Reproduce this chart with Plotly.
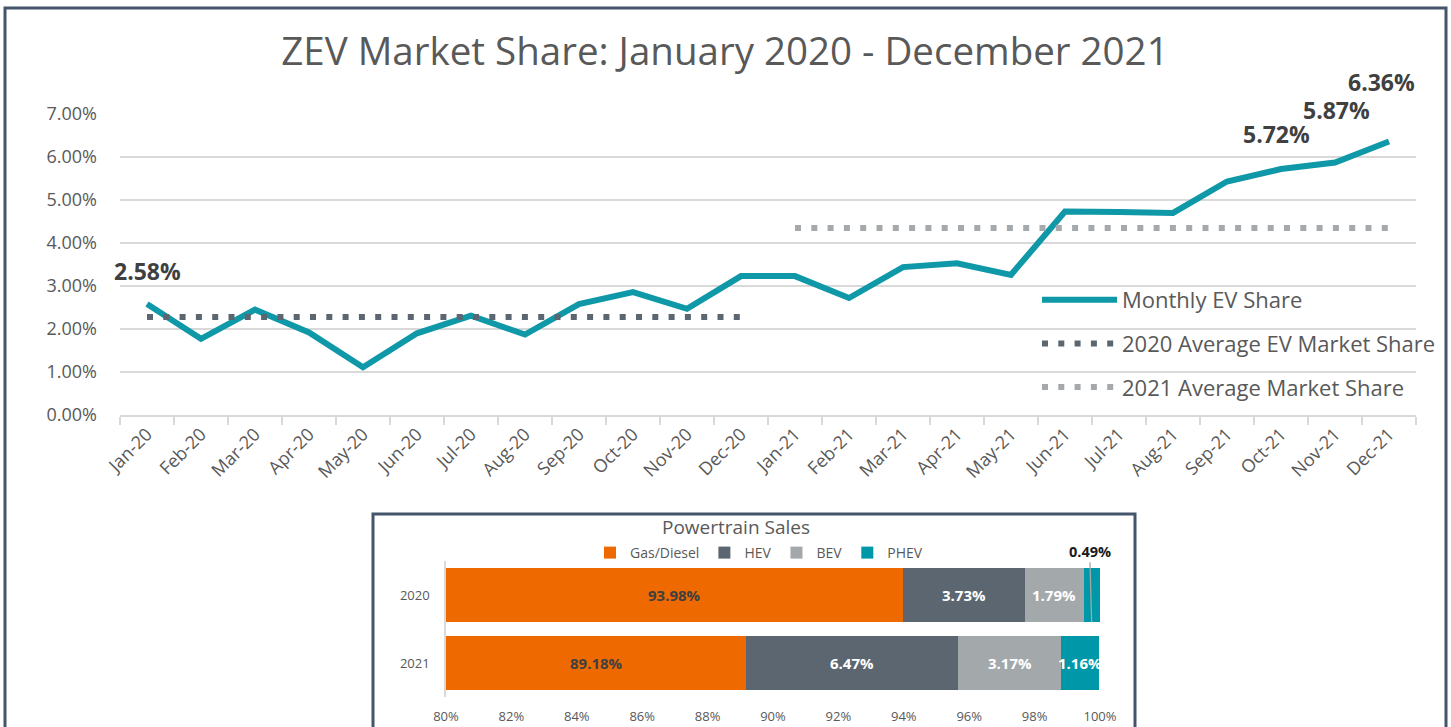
import plotly.graph_objects as go

# ---------------- data ----------------
months = ["Jan-20", "Feb-20", "Mar-20", "Apr-20", "May-20", "Jun-20", "Jul-20", "Aug-20",
          "Sep-20", "Oct-20", "Nov-20", "Dec-20", "Jan-21", "Feb-21", "Mar-21", "Apr-21",
          "May-21", "Jun-21", "Jul-21", "Aug-21", "Sep-21", "Oct-21", "Nov-21", "Dec-21"]
monthly_share = [2.58, 1.77, 2.45, 1.92, 1.11, 1.90, 2.31, 1.87, 2.58, 2.86, 2.47, 3.23,
                 3.23, 2.72, 3.44, 3.53, 3.26, 4.73, 4.72, 4.70, 5.43, 5.72, 5.87, 6.36]
avg_2020 = 2.28
avg_2021 = 4.35
months_2020 = months[:12]
months_2021 = months[12:]

labelled_idx = [0, 21, 22, 23]
label_yshift = [33, 35, 53, 60]
label_xshift = [0, -5, 1, -8]

years = ["2020", "2021"]
powertrains = ["Gas/Diesel", "HEV", "BEV", "PHEV"]
pt_values = {
    "Gas/Diesel": [93.98, 89.18],
    "HEV": [3.73, 6.47],
    "BEV": [1.79, 3.17],
    "PHEV": [0.49, 1.16],
}
pt_colors = {"Gas/Diesel": "#EE6A00", "HEV": "#5B6670", "BEV": "#A3A8AB", "PHEV": "#0097A8"}
inset_axis_min = 80
bar_gap = 0.2

W, H = 1451, 727
def px(x):
    return x / W
def py(y):
    return 1 - y / H

FONT = "Open Sans"
GREY_TXT = "#595959"
TEAL = "#0F98A8"

fig = go.Figure()

# ---------------- main chart ----------------
fig.add_trace(go.Scatter(
    x=months, y=monthly_share, mode="lines", name="Monthly EV Share",
    line=dict(color=TEAL, width=6), legend="legend", legendgroup="a",
    xaxis="x", yaxis="y"))
fig.add_trace(go.Scatter(
    x=months_2020, y=[avg_2020] * len(months_2020), mode="lines",
    name="2020 Average EV Market Share",
    line=dict(color="#5B6670", width=6, dash="6px,10.3px"), legend="legend", legendgroup="b",
    xaxis="x", yaxis="y"))
fig.add_trace(go.Scatter(
    x=months_2021, y=[avg_2021] * len(months_2021), mode="lines",
    name="2021 Average Market Share",
    line=dict(color="#A5A9AC", width=6, dash="6px,10.3px"), legend="legend", legendgroup="c",
    xaxis="x", yaxis="y"))

annotations = []
for k, i in enumerate(labelled_idx):
    annotations.append(dict(
        x=i, y=monthly_share[i], xref="x", yref="y",
        text=f"<b>{monthly_share[i]:.2f}%</b>", showarrow=False,
        yshift=label_yshift[k], xshift=label_xshift[k],
        font=dict(family=FONT, size=23, color="#404040")))

# ---------------- inset: powertrain sales ----------------
for p in powertrains:
    fig.add_trace(go.Bar(
        y=years, x=pt_values[p], orientation="h", name=p,
        marker=dict(color=pt_colors[p], line=dict(width=0)),
        legend="legend2", xaxis="x2", yaxis="y2", hoverinfo="skip"))

# segment labels (y given as category index)
for j, yr in enumerate(years):
    left = 0.0
    for p in powertrains:
        v = pt_values[p][j]
        right = left + v
        vis_left = max(left, inset_axis_min)
        mid = (vis_left + right) / 2
        if p == "PHEV" and yr == "2020":
            annotations.append(dict(
                x=mid, y=j + (1 - bar_gap) / 2, xref="x2", yref="y2",
                text=f"<b>{v:.2f}%</b>", showarrow=True, arrowhead=0,
                arrowcolor="#A6A6A6", arrowwidth=1.3, ax=-2, ay=-71, standoff=0,
                font=dict(family=FONT, size=14.5, color="#1a1a1a")))
        else:
            annotations.append(dict(
                x=mid, y=j, xref="x2", yref="y2", text=f"<b>{v:.2f}%</b>",
                showarrow=False,
                font=dict(family=FONT, size=15,
                          color="#404040" if p == "Gas/Diesel" else "#FFFFFF")))
        left = right

annotations.append(dict(
    x=px(736), y=py(527), xref="paper", yref="paper", text="Powertrain Sales",
    xanchor="center", yanchor="middle",
    showarrow=False, font=dict(family=FONT, size=19, color=GREY_TXT)))

shapes = [
    dict(type="rect", xref="paper", yref="paper", x0=px(5), x1=px(1446), y0=py(8), y1=-0.1,
         line=dict(color="#44546A", width=3), fillcolor="rgba(0,0,0,0)", layer="below"),
    dict(type="rect", xref="paper", yref="paper", x0=px(373), x1=px(1135), y0=py(514), y1=-0.1,
         line=dict(color="#44546A", width=3), fillcolor="white", layer="below"),
]

fig.update_layout(
    width=W, height=H,
    margin=dict(l=0, r=0, t=0, b=0, autoexpand=False),
    paper_bgcolor="white", plot_bgcolor="rgba(0,0,0,0)",
    font=dict(family=FONT, color=GREY_TXT),
    title=dict(text="ZEV Market Share: January 2020 - December 2021",
               x=px(725), xanchor="center", y=py(52), yanchor="middle",
               font=dict(family=FONT, size=38.5, color=GREY_TXT)),
    barmode="stack", bargap=bar_gap,
    showlegend=True,
    legend=dict(x=px(1037), y=py(279), xanchor="left", yanchor="top",
                bgcolor="rgba(0,0,0,0)", font=dict(family=FONT, size=22, color=GREY_TXT),
                tracegroupgap=12, itemwidth=75),
    legend2=dict(orientation="h", x=px(590), y=py(553), xanchor="left", yanchor="middle",
                 bgcolor="rgba(0,0,0,0)", font=dict(family=FONT, size=14, color=GREY_TXT),
                 traceorder="normal", itemwidth=30),
    xaxis=dict(domain=[px(120), px(1416)], anchor="y", type="category",
               range=[-0.5, len(months) - 0.5], tickangle=-45, automargin=False,
               tickfont=dict(family=FONT, size=18, color=GREY_TXT),
               showline=True, linecolor="#D9D9D9", linewidth=1.5,
               ticks="outside", tickson="boundaries", ticklen=8, tickcolor="#D9D9D9",
               tickwidth=1.5, showgrid=False, zeroline=False),
    yaxis=dict(domain=[py(415), py(114)], anchor="x", range=[0, 7], dtick=1,
               tickformat=".2f", ticksuffix="%", automargin=False,
               tickfont=dict(family=FONT, size=18, color=GREY_TXT),
               gridcolor="#D9D9D9", gridwidth=1.5, zeroline=False, showline=False,
               ticklabelstandoff=22),
    xaxis2=dict(domain=[px(446), px(1100)], anchor="y2", range=[80, 100], dtick=2,
                ticksuffix="%", tickfont=dict(family=FONT, size=13, color=GREY_TXT),
                showgrid=False, zeroline=False, showline=False, automargin=False,
                ticklabelstandoff=10),
    yaxis2=dict(domain=[py(697), py(561)], anchor="x2", type="category",
                categoryorder="array", categoryarray=years, range=[1.5, -0.5],
                showline=True, linecolor="#D9D9D9", linewidth=1.5, automargin=False,
                tickfont=dict(family=FONT, size=13, color=GREY_TXT),
                ticklabelstandoff=12, showgrid=False, zeroline=False),
    annotations=annotations,
    shapes=shapes,
)

fig.write_html("out.html", config={"displayModeBar": False},
               post_script="document.body.style.margin='0';document.body.style.overflow='hidden';")
